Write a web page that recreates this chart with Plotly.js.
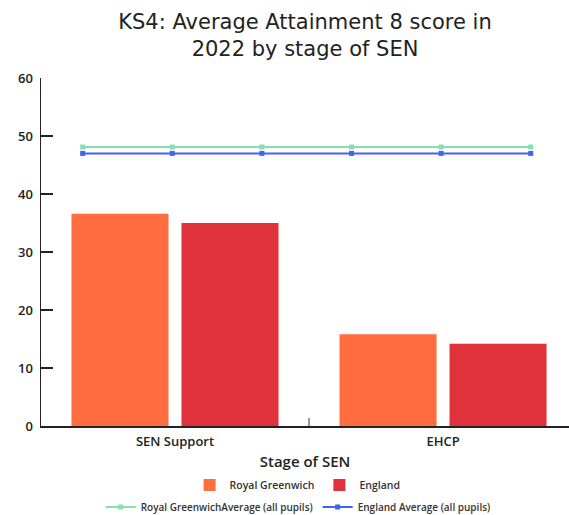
<!DOCTYPE html>
<html>
<head>
<meta charset="utf-8">
<script src="https://cdn.plot.ly/plotly-3.0.1.min.js"></script>
<style>html,body{margin:0;padding:0;overflow:hidden;background:#fff}</style>
</head>
<body>
<div id="chart" style="width:569px;height:515px"></div>
<script>
const categories = ['SEN Support', 'EHCP'];
const royalGreenwich = [36.6, 15.8];
const england = [35.0, 14.2];
const linePoints = ['p1', 'p2', 'p3', 'p4', 'p5', 'p6'];
const rgAverageAll = [48.1, 48.1, 48.1, 48.1, 48.1, 48.1];
const engAverageAll = [47.0, 47.0, 47.0, 47.0, 47.0, 47.0];
const yTicks = [0, 10, 20, 30, 40, 50, 60];

const FONT = '"Open Sans", sans-serif';
const TITLE_FONT = '"DejaVu Sans", sans-serif';

const data = [
  {type: 'bar', name: 'Royal Greenwich', x: categories, y: royalGreenwich,
   marker: {color: '#ff6d40'}, legend: 'legend', hoverinfo: 'y'},
  {type: 'bar', name: 'England', x: categories, y: england,
   marker: {color: '#df323a'}, legend: 'legend', hoverinfo: 'y'},
  {type: 'scatter', mode: 'lines+markers', name: 'Royal GreenwichAverage (all pupils)',
   x: linePoints, y: rgAverageAll, xaxis: 'x2', yaxis: 'y',
   line: {color: '#86dfae', width: 2}, marker: {color: '#86dfae', symbol: 'square', size: 5},
   legend: 'legend2'},
  {type: 'scatter', mode: 'lines+markers', name: 'England Average (all pupils)',
   x: linePoints, y: engAverageAll, xaxis: 'x2', yaxis: 'y',
   line: {color: '#3d64f2', width: 2}, marker: {color: '#3d64f2', symbol: 'square', size: 5},
   legend: 'legend2'}
];

const layout = {
  width: 569, height: 515,
  margin: {l: 41, r: 0, t: 78, b: 89, autoexpand: false},
  paper_bgcolor: '#fff', plot_bgcolor: '#fff',
  font: {family: FONT, color: '#222'},
  title: {text: 'KS4: Average Attainment 8 score in<br>2022 by stage of SEN',
          font: {size: 21, color: '#222', family: TITLE_FONT},
          x: 0.5, xref: 'paper', xanchor: 'center', y: 0.944, yref: 'container', yanchor: 'middle'},
  barmode: 'group', bargap: 0.179, bargroupgap: 0.118,
  showlegend: true,
  xaxis: {type: 'category', range: [-0.5, 1.47], showline: true, linecolor: '#222', linewidth: 1.5,
          ticks: 'inside', tickson: 'boundaries', ticklen: 8, tickcolor: '#999', tickwidth: 2,
          showgrid: false, zeroline: false, fixedrange: true, automargin: false, ticklabelstandoff: 3,
          tickfont: {size: 13, family: FONT, color: '#222', weight: 600},
          title: {text: 'Stage of SEN', font: {size: 15, family: FONT, color: '#222', weight: 600}, standoff: 7}},
  xaxis2: {type: 'category', overlaying: 'x', range: [-0.465, 5.427], visible: false, showgrid: false, zeroline: false},
  yaxis: {range: [0, 60], tickvals: yTicks, showline: true, linecolor: '#222', linewidth: 1.5,
          ticks: 'inside', ticklen: 12, tickcolor: '#222', tickwidth: 1.5, automargin: false,
          showgrid: false, zeroline: false, ticklabelstandoff: 4,
          tickfont: {size: 13, family: FONT, color: '#222', weight: 600}},
  legend: {orientation: 'h', x: 0.486, xanchor: 'center', y: -0.1695, yanchor: 'middle',
           font: {size: 10.5, family: FONT, color: '#333', weight: 600}, itemwidth: 30,
           bgcolor: 'rgba(0,0,0,0)'},
  legend2: {orientation: 'h', x: 0.487, xanchor: 'center', y: -0.233, yanchor: 'middle',
           font: {size: 10, family: FONT, color: '#333', weight: 600}, itemwidth: 30,
           bgcolor: 'rgba(0,0,0,0)'}
};

Plotly.newPlot('chart', data, layout, {displayModeBar: false, staticPlot: true});
</script>
</body>
</html>
